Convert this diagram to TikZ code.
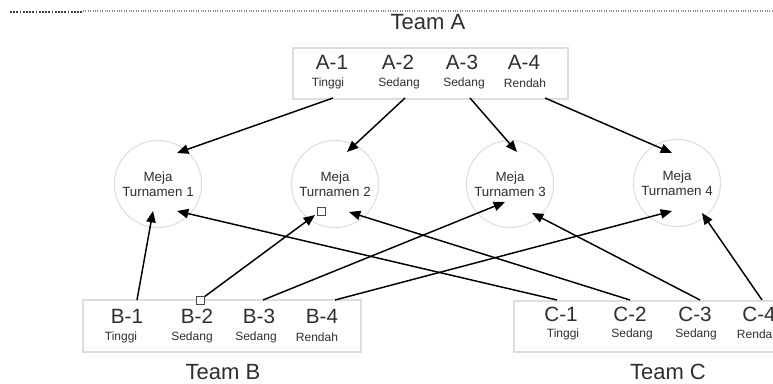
\documentclass[tikz,border=0pt]{standalone}
\usepackage{fontspec}
\setmainfont{Liberation Sans}
\usetikzlibrary{arrows.meta}
\definecolor{rim}{HTML}{DDDDDD}
\definecolor{ink}{HTML}{2E2E2E}
\tikzset{
  team/.style={font=\fontsize{16.5}{19}\selectfont, text=ink, inner sep=0},
  player/.style={font=\fontsize{15.5}{18}\selectfont, text=ink, inner sep=0},
  level/.style={font=\fontsize{9}{11}\selectfont, text=ink, inner sep=0},
  meja/.style={circle, draw=rim, line width=0.8pt, minimum size=64pt, align=center,
    font=\fontsize{10}{11.5}\selectfont, text=ink},
  kotak/.style={draw=rim, line width=0.8pt},
  arr/.style={-{Triangle[length=8.5pt,width=7pt]}, line width=1.1pt},
  handle/.style={draw=black!70, fill=white, line width=0.6pt, minimum size=6pt, inner sep=0},
}
\begin{document}
\begin{tikzpicture}[x=0.75pt,y=-0.75pt]
\clip (0,0) rectangle (773,383);
% top rule
\draw[black!75, densely dotted, line width=1.4pt] (10,12) -- (83,12);
\draw[black!45, densely dotted, line width=0.8pt] (83,11) -- (773,11);
% teams
\node[team] (teamA) at (428,22) {Team A};
\node[team] (teamB) at (223,372) {Team B};
\node[team] (teamC) at (668,372) {Team C};
\draw[kotak] (293,48) rectangle (568,99);
\draw[kotak] (83,300) rectangle (361,352);
\draw[kotak] (514,301) rectangle (790,352);
\foreach \n/\x/\u/\lv in {1/332/328/Tinggi, 2/398/399/Sedang, 3/462/464/Sedang, 4/524/525/Rendah}{
  \node[player] (a\n) at (\x,62) {A-\n};
  \node[level] (la\n) at (\u,83) {\lv};
}
\foreach \n/\x/\u/\lv in {1/127/121/Tinggi, 2/197/192/Sedang, 3/259/256/Sedang, 4/322/317/Rendah}{
  \node[player] (b\n) at (\x,316) {B-\n};
  \node[level] (lb\n) at (\u,337) {\lv};
}
\foreach \n/\x/\u/\lv in {1/561/563/Tinggi, 2/630/632/Sedang, 3/695/696/Sedang, 4/759/758/Rendah}{
  \node[player] (c\n) at (\x,314) {C-\n};
  \node[level] (lc\n) at (\u,334) {\lv};
}
% meja turnamen
\foreach \n/\x/\y in {1/158/184, 2/335/184, 3/510/184, 4/677/183}
  \node[meja] (m\n) at (\x,\y) {Meja\\Turnamen \n};
% start points
\foreach \n/\x in {1/333, 2/405, 3/470, 4/545} \coordinate (oa\n) at (\x,98);
\foreach \n/\x in {1/137, 2/200, 3/263, 4/335} \coordinate (ob\n) at (\x,300);
\foreach \n/\x in {1/557, 2/630, 3/700, 4/762} \coordinate (oc\n) at (\x,300);
% team A
\draw[arr] (oa1) -- ([shift={(19,-31)}]m1.center);
\draw[arr] (oa2) -- ([shift={(12,-32)}]m2.center);
\draw[arr] (oa3) -- ([shift={(7,-32)}]m3.center);
\draw[arr] (oa4) -- ([shift={(-5,-30)}]m4.center);
% team B
\draw[arr] (ob1) -- ([shift={(-5,27)}]m1.center);
\draw[arr] (ob2) -- ([shift={(-20,31)}]m2.center);
\draw[arr] (ob3) -- ([shift={(-5,18)}]m3.center);
\draw[arr] (ob4) -- ([shift={(-5,28)}]m4.center);
% team C
\draw[arr] (oc1) -- ([shift={(19,27)}]m1.center);
\draw[arr] (oc2) -- ([shift={(14,28)}]m2.center);
\draw[arr] (oc3) -- ([shift={(22,29)}]m3.center);
\draw[arr] (oc4) -- ([shift={(25,30)}]m4.center);
% handles
\node[handle] (h1) at (ob2) {};
\node[handle] (h2) at (321,211) {};
\end{tikzpicture}
\end{document}
